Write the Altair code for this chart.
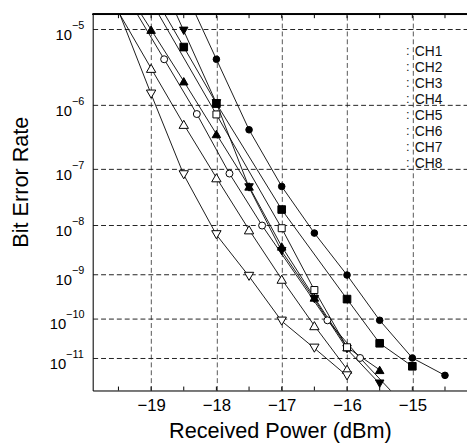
import altair as alt
import pandas as pd
import math

FONT = "Liberation Sans"

channels = ["CH1", "CH2", "CH3", "CH4", "CH5", "CH6", "CH7", "CH8"]
shapes = ["circle", "square", "triangle-up", "triangle-down",
          "square", "circle", "triangle-up", "triangle-down"]
fill_kind = ["solid", "solid", "solid", "solid", "open", "open", "open", "open"]
marker_size = [45, 60, 75, 75, 50, 50, 90, 90]

ch1_power = [-18.5, -18.0, -17.5, -17.0, -16.5, -16.0, -15.5, -15.0, -14.5]
ch1_ber = [2.9e-5, 4.2e-6, 4.3e-7, 5.1e-8, 7.0e-9, 9.6e-10, 8.9e-11, 1.0e-11, 3.4e-12]

ch2_power = [-19.0, -18.5, -18.0, -17.0, -16.0, -15.5, -15.0]
ch2_ber = [2.75e-5, 6.0e-6, 1.05e-6, 1.96e-8, 2.8e-10, 2.4e-11, 6.0e-12]

ch3_power = [-19.5, -19.0, -18.5, -18.0, -17.5, -17.0, -16.5, -16.0, -15.5]
ch3_ber = [3.7e-5, 9.8e-6, 2.15e-6, 3.7e-7, 5.1e-8, 3.8e-9, 3.05e-10, 1.9e-11, 4.8e-12]

ch4_power = [-19.0, -18.5, -18.0, -17.5, -17.0, -16.5, -16.0, -15.5]
ch4_ber = [6.0e-5, 9.5e-6, 1.06e-6, 4.9e-8, 3.05e-9, 2.8e-10, 1.7e-11, 2.0e-12]

ch5_power = [-19.0, -18.0, -17.0, -16.5, -16.0]
ch5_ber = [2.1e-5, 7.3e-7, 8.7e-9, 4.5e-10, 1.9e-11]

ch6_power = [-19.8, -18.8, -18.3, -17.8, -17.3, -16.3, -15.8, -14.8]
ch6_ber = [7.3e-5, 4.2e-6, 7.4e-7, 8.5e-8, 9.8e-9, 8.9e-11, 1.0e-11, 1.0e-13]

ch7_power = [-20.0, -19.0, -18.5, -18.0, -17.5, -17.0, -16.5, -16.0]
ch7_ber = [6.4e-5, 3.2e-6, 5.2e-7, 7.2e-8, 8.1e-9, 7.8e-10, 6.6e-11, 5.0e-12]

ch8_power = [-20.0, -19.0, -18.5, -18.0, -17.5, -17.0, -16.5, -16.0]
ch8_ber = [1.2e-4, 1.43e-6, 8.1e-8, 6.5e-9, 9.0e-10, 8.5e-11, 1.8e-11, 3.3e-12]

powers = [ch1_power, ch2_power, ch3_power, ch4_power, ch5_power, ch6_power, ch7_power, ch8_power]
bers = [ch1_ber, ch2_ber, ch3_ber, ch4_ber, ch5_ber, ch6_ber, ch7_ber, ch8_ber]

x_ticks = [-19, -18, -17, -16, -15]
x_minor = [-19.5, -19, -18.5, -18, -17.5, -17, -16.5, -16, -15.5, -15, -14.5]
y_exponents = [5, 6, 7, 8, 9, 10, 11]

rows = []
for ch, sh, fk, sz, ps, bs in zip(channels, shapes, fill_kind, marker_size, powers, bers):
    for p, b in zip(ps, bs):
        rows.append({"ch": ch, "shape": sh, "fill": fk, "size": sz, "power": p, "ber": b})
df = pd.DataFrame(rows)

y_tick_t = [math.log10(e) for e in y_exponents]

W, H = 380, 382
xscale = alt.Scale(domain=[-19.894, -14.163], nice=False, zero=False)
yscale = alt.Scale(domain=[0.68365, 1.07525], reverse=True, nice=False, zero=False)

base = alt.Chart(df).transform_calculate(
    t="log(-log(datum.ber) / LN10) / LN10",
)

lines = base.mark_line(strokeWidth=0.9, clip=True, color="black").encode(
    x=alt.X("power:Q", scale=xscale,
            axis=alt.Axis(values=x_ticks, format="d", ticks=False, labelPadding=7,
                          labelFont=FONT, labelFontSize=17, labelColor="black",
                          domainColor="black", domainWidth=1,
                          grid=True, gridColor="#555555", gridDash=[5, 3], gridWidth=1,
                          title="Received Power (dBm)", titleFont=FONT, titleFontSize=22,
                          titleFontWeight="normal", titleColor="black",
                          titleBaseline="middle", titleY=41)),
    y=alt.Y("t:Q", scale=yscale,
            axis=alt.Axis(values=y_tick_t, labels=False, ticks=False,
                          domainColor="black", domainWidth=1,
                          grid=True, gridColor="#222222", gridDash=[5, 3], gridWidth=1,
                          title="Bit Error Rate", titleFont=FONT, titleFontSize=22,
                          titleFontWeight="normal", titleColor="black",
                          titleBaseline="middle", titleX=-73, titleY=170)),
    detail="ch:N",
)

points = base.mark_point(filled=True, stroke="black", strokeWidth=1, opacity=1, clip=True).encode(
    x=alt.X("power:Q", scale=xscale),
    y=alt.Y("t:Q", scale=yscale),
    shape=alt.Shape("ch:N", scale=alt.Scale(domain=channels, range=shapes), legend=None),
    fill=alt.Fill("fill:N", scale=alt.Scale(domain=["solid", "open"], range=["black", "white"]), legend=None),
    size=alt.Size("size:Q", scale=None, legend=None),
)

tick_df = pd.DataFrame({"p": x_minor})
bottom_ticks = alt.Chart(tick_df).mark_rule(color="black", strokeWidth=1).encode(
    x=alt.X("p:Q", scale=xscale), y=alt.value(H), y2=alt.value(H - 4))
top_ticks = alt.Chart(tick_df).mark_rule(color="black", strokeWidth=1).encode(
    x=alt.X("p:Q", scale=xscale), y=alt.value(0), y2=alt.value(4))
top_line = alt.Chart(tick_df).mark_rule(color="black", strokeWidth=1).encode(
    x=alt.value(0), x2=alt.value(W), y=alt.value(0))

# legend (labels only, with the small dotted line samples)
leg_df = pd.DataFrame({"txt": ["\n".join(channels)], "sym": ["\n".join([":"] * len(channels))]})
legend_labels = alt.Chart(leg_df).mark_text(
    align="left", baseline="top", font=FONT, fontSize=14, lineHeight=16.3,
    lineBreak="\n", color="#111111").encode(
    x=alt.value(327), y=alt.value(31), text="txt:N")
legend_syms = alt.Chart(leg_df).mark_text(
    align="center", baseline="top", font=FONT, fontSize=13, lineHeight=16.3,
    lineBreak="\n", color="#222222").encode(
    x=alt.value(320), y=alt.value(31), text="sym:N")

lab_df = pd.DataFrame({"e": y_exponents})
lab_base = alt.Chart(lab_df).transform_calculate(
    t="log(datum.e) / LN10", lab="'\u2212' + datum.e")
base_one = lab_base.transform_filter("datum.e < 10").mark_text(
    align="right", baseline="middle", font=FONT, fontSize=15, dy=6, color="black").encode(
    x=alt.value(-21), y=alt.Y("t:Q", scale=yscale), text=alt.value("10"))
exp_one = lab_base.transform_filter("datum.e < 10").mark_text(
    align="left", baseline="middle", font=FONT, fontSize=11, dy=-3, color="black").encode(
    x=alt.value(-21), y=alt.Y("t:Q", scale=yscale), text="lab:N")
base_two = lab_base.transform_filter("datum.e >= 10").mark_text(
    align="right", baseline="middle", font=FONT, fontSize=15, dy=6, color="black").encode(
    x=alt.value(-27), y=alt.Y("t:Q", scale=yscale), text=alt.value("10"))
exp_two = lab_base.transform_filter("datum.e >= 10").mark_text(
    align="left", baseline="middle", font=FONT, fontSize=11, dy=-3, color="black").encode(
    x=alt.value(-27), y=alt.Y("t:Q", scale=yscale), text="lab:N")

chart = alt.layer(
    lines, points, bottom_ticks, top_ticks, top_line,
    legend_syms, legend_labels,
    base_one, exp_one, base_two, exp_two
).properties(
    width=W, height=H,
    autosize=alt.AutoSizeParams(type="none"),
    padding={"left": 86, "right": 0, "top": 3, "bottom": 52},
).configure_view(stroke=None).configure(background="white")

chart.save("out.html", embed_options={"renderer": "svg", "actions": False})
